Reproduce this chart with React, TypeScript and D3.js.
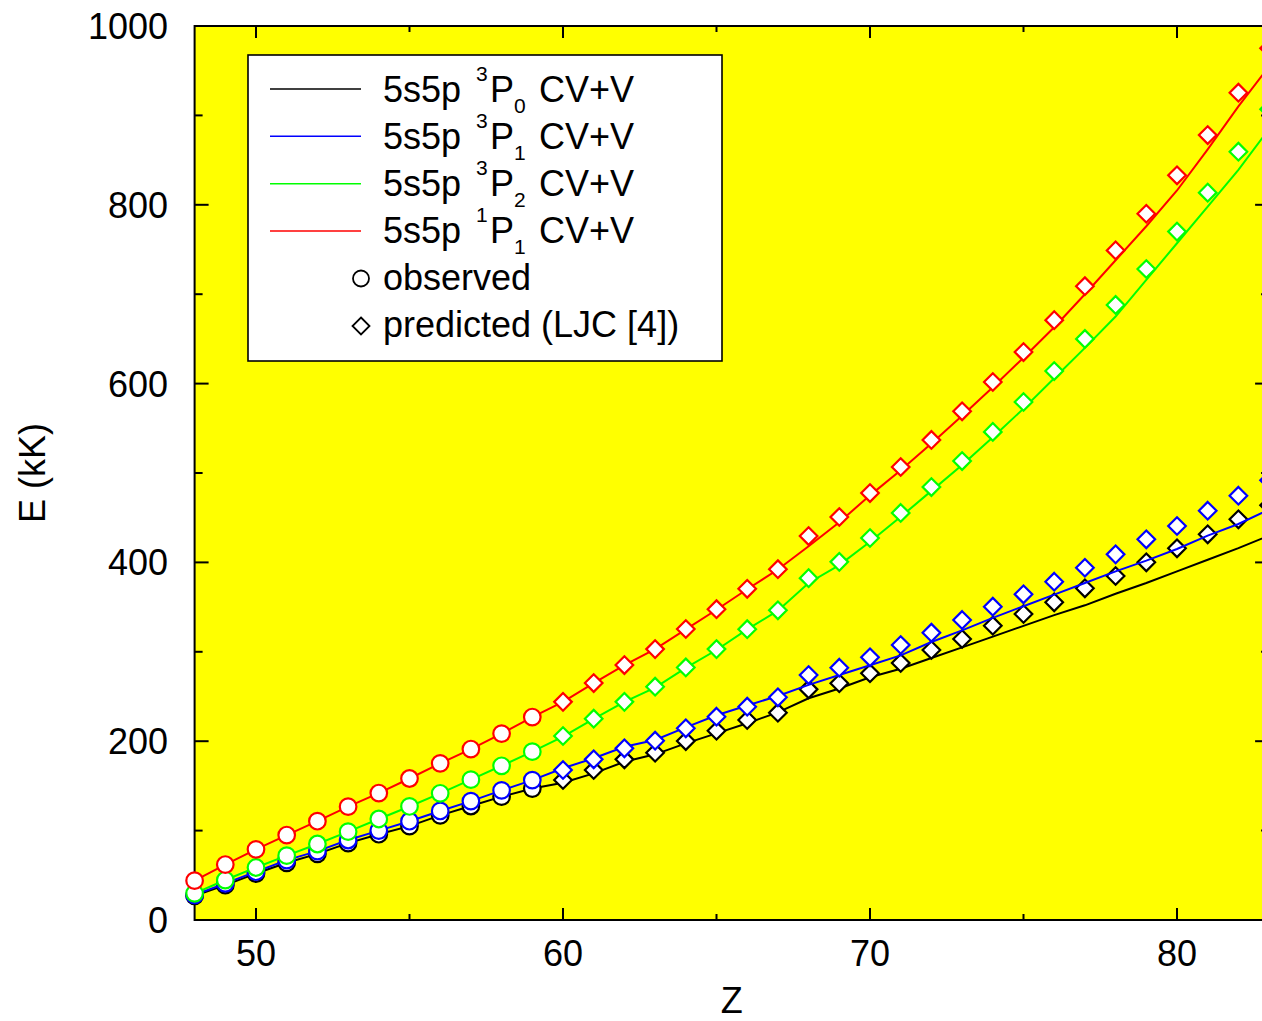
import React from "react";
import * as d3 from "d3";

// ---------- data ----------
const zObserved = [48, 49, 50, 51, 52, 53, 54, 55, 56, 57, 58, 59];
const zPredicted = [60, 61, 62, 63, 64, 65, 66, 67, 68, 69, 70, 71, 72, 73, 74, 75, 76, 77, 78, 79, 80, 81, 82, 83];
const zTheory = [48, 49, 50, 51, 52, 53, 54, 55, 56, 57, 58, 59, 60, 61, 62, 63, 64, 65, 66, 67, 68, 69, 70, 71, 72, 73, 74, 75, 76, 77, 78, 79, 80, 81, 82, 83];

// observed (circles)
const obs3P0 = [27, 39, 52, 64, 74, 86, 96, 105, 117, 127.5, 138, 147];
const obs3P1 = [28, 41, 54, 67, 77, 89.5, 100, 110.5, 122, 133, 145, 156.5];
const obs3P2 = [29.8, 44.7, 58.7, 72, 85, 98.8, 113, 127, 141.7, 157, 172.5, 188.3];
const obs1P1 = [44, 62, 79, 95, 110.5, 126.8, 142, 158.3, 175.2, 191.2, 208.5, 227];

// predicted LJC [4] (diamonds)
const pred3P0 = [156.6, 167.8, 179.7, 187.1, 200.2, 211.7, 223.7, 231.9, 258, 264.8, 276, 287.5, 302, 314.3, 329.2, 342.3, 355.4, 371, 384.8, 400.1, 415.8, 431.4, 448.2, 464];
const pred3P1 = [167.8, 179.7, 192, 200.6, 214.4, 227.4, 238.6, 249.1, 274, 282.2, 293.8, 307.6, 321.4, 335.6, 350.5, 364.3, 378.4, 394, 409, 425.8, 440.7, 457.8, 474.6, 492];
const pred3P2 = [205.8, 225.2, 244, 261, 282.5, 303, 325.3, 346.4, 382.4, 400.6, 427.3, 455.3, 484.3, 513.4, 546, 579.4, 614, 650, 688, 728.2, 770, 813.6, 859.4, 907];
const pred1P1 = [244, 265, 285.2, 303, 325.5, 347.7, 370.5, 392.4, 429.5, 450.8, 477.6, 506.7, 537, 569, 601.8, 635.3, 671, 709, 749, 790, 833, 878, 925.4, 975];

// CV+V theory (lines)
const cv3P0 = [27, 39, 52, 64, 74, 86, 96, 105, 117, 127.5, 138, 147, 153.6, 164, 177, 185.3, 197.6, 208.8, 220, 232.3, 248, 259, 271.5, 281, 293, 305, 317, 329, 341, 352, 365, 377, 390, 403, 416, 430];
const cv3P1 = [28, 41, 54, 67, 77, 89.5, 100, 110.5, 122, 133, 145, 156.5, 169.7, 181, 193.8, 201.3, 215.5, 229, 240, 250.6, 263, 274, 285, 296, 311, 324, 338, 351, 364, 377, 390, 402, 415, 430, 443, 459];
const cv3P2 = [29.8, 44.7, 58.7, 72, 85, 98.8, 113, 127, 141.7, 157, 172.5, 188.3, 205, 225, 244, 260, 282, 302, 325, 346, 377, 397, 423, 451, 480, 509, 540, 572, 606, 640, 675, 716, 757, 798, 839, 885];
const cv1P1 = [44, 62, 79, 95, 110.5, 126.8, 142, 158.3, 175.2, 191.2, 208.5, 227, 244, 265, 285, 303, 325, 347, 370, 392, 418, 445, 475, 503, 533, 564, 596, 629, 663, 700, 738, 776, 816, 862, 910, 955];

const seriesMult = ["3", "3", "3", "1"];
const seriesJ = ["0", "1", "2", "1"];
const seriesColors = ["#000000", "#0000ff", "#00ff00", "#ff0000"];
const theoryValues = [cv3P0, cv3P1, cv3P2, cv1P1];
const observedValues = [obs3P0, obs3P1, obs3P2, obs1P1];
const predictedValues = [pred3P0, pred3P1, pred3P2, pred1P1];

const xTicksMajor = [50, 60, 70, 80];
const xTicksMinor = [55, 65, 75];
const yTicks = [0, 100, 200, 300, 400, 500, 600, 700, 800, 900, 1000];

const FONT = "'Liberation Sans', Arial, Helvetica, sans-serif";

function diamondPath(cx: number, cy: number, r: number) {
  return `M${cx},${cy - r}L${cx + r},${cy}L${cx},${cy + r}L${cx - r},${cy}Z`;
}

export default function App() {
  const W = 1262;
  const H = 1021;
  const left = 194.6;
  const top = 26;
  const bottom = 920;
  const x = d3.scaleLinear().domain([48, 83]).range([left, left + 35 * 30.7]);
  const y = d3.scaleLinear().domain([0, 1000]).range([bottom, top]);
  const right = x(83);

  const line = d3
    .line<number>()
    .x((_, i) => x(zTheory[i]))
    .y((d) => y(d));

  const legX = 248;
  const legY = 55;
  const rowY = [102, 149, 196, 243];
  const lineY = [89, 136.3, 183.7, 231];

  return (
    <svg
      width={W}
      height={H}
      style={{ position: "absolute", left: 0, top: 0, background: "#fff" }}
      fontFamily={FONT}
    >
      <defs>
        <clipPath id="plotclip">
          <rect x={left} y={top} width={right - left} height={bottom - top} />
        </clipPath>
      </defs>
      <rect x={0} y={0} width={W} height={H} fill="#fff" />
      <rect x={left} y={top} width={right - left} height={bottom - top} fill="#ffff00" />

      {/* axes frame */}
      <rect x={left} y={top} width={right - left} height={bottom - top} fill="none" stroke="#000" strokeWidth={2} />

      {/* y ticks */}
      {yTicks.map((t) => {
        const major = t % 200 === 0;
        const len = major ? 14 : 8;
        return (
          <g key={"y" + t}>
            <line x1={left} x2={left + len} y1={y(t)} y2={y(t)} stroke="#000" strokeWidth={2} />
            <line x1={right} x2={right - len} y1={y(t)} y2={y(t)} stroke="#000" strokeWidth={2} />
            {major && (
              <text x={168} y={y(t)} dy="0.36em" textAnchor="end" fontSize={36}>
                {t}
              </text>
            )}
          </g>
        );
      })}

      {/* x ticks */}
      {xTicksMajor.map((t) => (
        <g key={"x" + t}>
          <line x1={x(t)} x2={x(t)} y1={bottom} y2={bottom - 12} stroke="#000" strokeWidth={2} />
          <line x1={x(t)} x2={x(t)} y1={top} y2={top + 12} stroke="#000" strokeWidth={2} />
          <text x={x(t)} y={966} textAnchor="middle" fontSize={36}>
            {t}
          </text>
        </g>
      ))}
      {xTicksMinor.map((t) => (
        <g key={"xm" + t}>
          <line x1={x(t)} x2={x(t)} y1={bottom} y2={bottom - 6} stroke="#000" strokeWidth={2} />
          <line x1={x(t)} x2={x(t)} y1={top} y2={top + 6} stroke="#000" strokeWidth={2} />
        </g>
      ))}

      {/* axis labels */}
      <text x={(left + right) / 2} y={1013} textAnchor="middle" fontSize={36}>
        Z
      </text>
      <text transform={`translate(45,${(top + bottom) / 2}) rotate(-90)`} textAnchor="middle" fontSize={36}>
        E (kK)
      </text>

      {/* series */}
      {theoryValues.map((vals, s) => (
        <g key={"s" + s}>
          <path d={line(vals) || ""} fill="none" stroke={seriesColors[s]} strokeWidth={2} clipPath="url(#plotclip)" />
          {observedValues[s].map((v, i) => (
            <circle key={"o" + i} cx={x(zObserved[i])} cy={y(v)} r={8.3} fill="#fff" stroke={seriesColors[s]} strokeWidth={2.2} />
          ))}
          {predictedValues[s].map((v, i) => (
            <path key={"p" + i} d={diamondPath(x(zPredicted[i]), y(v), 8.8)} fill="#fff" stroke={seriesColors[s]} strokeWidth={2.2} />
          ))}
        </g>
      ))}

      {/* legend */}
      <rect x={legX} y={legY} width={474} height={306} fill="#fff" stroke="#000" strokeWidth={1.6} />
      {seriesColors.map((c, i) => (
        <g key={"leg" + i}>
          <line x1={270} x2={361} y1={lineY[i]} y2={lineY[i]} stroke={c} strokeWidth={1.6} />
          <text x={383} y={rowY[i]} fontSize={36}>
            5s5p
          </text>
          <text x={476} y={rowY[i] - 21} fontSize={21}>
            {seriesMult[i]}
          </text>
          <text x={490} y={rowY[i]} fontSize={36}>
            P
          </text>
          <text x={514} y={rowY[i] + 11} fontSize={21}>
            {seriesJ[i]}
          </text>
          <text x={539} y={rowY[i]} fontSize={36}>
            CV+V
          </text>
        </g>
      ))}
      <circle cx={361} cy={278.5} r={8} fill="#fff" stroke="#000" strokeWidth={1.8} />
      <text x={383} y={290} fontSize={36}>
        observed
      </text>
      <path d={diamondPath(361, 326, 8.5)} fill="#fff" stroke="#000" strokeWidth={1.8} />
      <text x={383} y={337} fontSize={36}>
        predicted (LJC [4])
      </text>
    </svg>
  );
}
